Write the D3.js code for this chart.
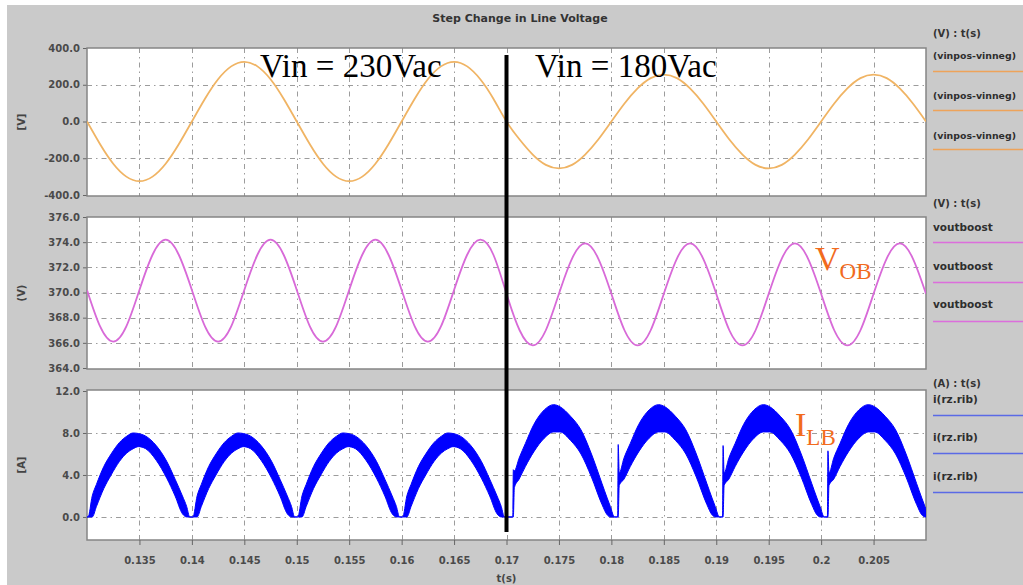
<!DOCTYPE html>
<html><head><meta charset="utf-8">
<script src="https://cdn.jsdelivr.net/npm/d3@7"></script>
<style>
html,body{margin:0;padding:0;background:#fff;}
svg{display:block;}
text{font-family:"DejaVu Sans",sans-serif;}
text.serif{font-family:"Liberation Serif","Times New Roman",serif;}
</style></head>
<body><div id="chart"></div>
<script>
// ---------------- DATA ----------------
const titleText = "Step Change in Line Voltage";
const xTicks = [0.135,0.14,0.145,0.15,0.155,0.16,0.165,0.17,0.175,0.18,0.185,0.19,0.195,0.2,0.205];
const stepTime = 0.17;

// common time grid for the two smooth traces (every 1.25 ms from 0.13 s to 0.21 s)
const gridStart = 0.13, gridStep = 0.00125;

// panel 1: (vinpos-vinneg) [V]
const vinTicks = [-400,-200,0,200,400];
const vinValues = [
  0,-124,-230,-300,-325,-300,-230,-124,0,124,230,300,325,300,230,124,
  0,-124,-230,-300,-325,-300,-230,-124,0,124,230,300,325,300,230,124,
  0,-98,-180,-236,-255,-236,-180,-98,0,98,180,236,255,236,180,98,
  0,-98,-180,-236,-255,-236,-180,-98,0,98,180,236,255,236,180,98,
  0];

// panel 2: voutboost [V]
const voutTicks = [364,366,368,370,372,374,376];
const voutValues = [
  370.2,367.3,366.1,367.3,370.2,373.0,374.2,373.0,
  370.2,367.3,366.1,367.3,370.2,373.0,374.2,373.0,
  370.2,367.3,366.1,367.3,370.2,373.0,374.2,373.0,
  370.2,367.3,366.1,367.3,370.2,373.0,374.2,373.0,
  369.9,367.0,365.8,367.0,369.9,372.7,373.9,372.7,
  369.9,367.0,365.8,367.0,369.9,372.7,373.9,372.7,
  369.9,367.0,365.8,367.0,369.9,372.7,373.9,372.7,
  369.9,367.0,365.8,367.0,369.9,372.7,373.9,372.7,
  369.9];

// panel 3: i(rz.rib) [A] – switching-ripple band (upper / lower envelope)
const ilbTicks = [0,4,8,12];
const ilbTime = [
  0.1300,
  0.1301,0.1305,0.1309,0.1316,0.1323,0.1331,0.1338,0.1344,0.1349,0.1356,0.1366,0.1376,0.1384,0.1391,0.1395,0.1398,
  0.1401,0.1405,0.1409,0.1416,0.1423,0.1431,0.1438,0.1444,0.1449,0.1456,0.1466,0.1476,0.1484,0.1491,0.1495,0.1498,
  0.1501,0.1505,0.1509,0.1516,0.1523,0.1531,0.1538,0.1544,0.1549,0.1556,0.1566,0.1576,0.1584,0.1591,0.1595,0.1598,
  0.1601,0.1605,0.1609,0.1616,0.1623,0.1631,0.1638,0.1644,0.1649,0.1656,0.1666,0.1676,0.1684,0.1691,0.1695,0.1698,
  0.17060,0.17065,0.17075,0.1712,0.1718,0.1726,0.1736,0.1745,0.1751,0.1761,0.1771,0.1781,0.1791,0.1796,0.1799,0.1803,
  0.18060,0.18065,0.18075,0.1812,0.1818,0.1826,0.1836,0.1845,0.1851,0.1861,0.1871,0.1881,0.1891,0.1896,0.1899,0.1903,
  0.19060,0.19065,0.19075,0.1912,0.1918,0.1926,0.1936,0.1945,0.1951,0.1961,0.1971,0.1981,0.1991,0.1996,0.1999,0.2003,
  0.20060,0.20065,0.20075,0.2012,0.2018,0.2026,0.2036,0.2045,0.2051,0.2061,0.2071,0.2081,0.2091,0.2096,0.2099,0.2103];
const ilbUpper = [
  0,
  0,2.0,3.1,4.8,6.0,7.1,7.7,8.0,7.95,7.7,6.8,5.3,3.6,2.0,1.0,0,
  0,2.0,3.1,4.8,6.0,7.1,7.7,8.0,7.95,7.7,6.8,5.3,3.6,2.0,1.0,0,
  0,2.0,3.1,4.8,6.0,7.1,7.7,8.0,7.95,7.7,6.8,5.3,3.6,2.0,1.0,0,
  0,2.0,3.1,4.8,6.0,7.1,7.7,8.0,7.95,7.7,6.8,5.3,3.6,2.0,1.0,0,
  0,4.5,4.4,5.6,7.0,8.8,10.2,10.7,10.5,9.6,8.3,6.0,3.2,1.8,1.0,0,
  0,6.9,4.2,5.6,7.0,8.8,10.2,10.7,10.5,9.6,8.3,6.0,3.2,1.8,1.0,0,
  0,6.8,4.2,5.6,7.0,8.8,10.2,10.7,10.5,9.6,8.3,6.0,3.2,1.8,1.0,0,
  0,6.3,4.2,5.6,7.0,8.8,10.2,10.7,10.5,9.6,8.3,6.0,3.2,1.8,1.0,0];
const ilbLower = [
  0,
  0,0,1.0,2.7,4.0,5.3,6.1,6.5,6.7,6.5,5.4,3.7,2.0,0.3,0,0,
  0,0,1.0,2.7,4.0,5.3,6.1,6.5,6.7,6.5,5.4,3.7,2.0,0.3,0,0,
  0,0,1.0,2.7,4.0,5.3,6.1,6.5,6.7,6.5,5.4,3.7,2.0,0.3,0,0,
  0,0,1.0,2.7,4.0,5.3,6.1,6.5,6.7,6.5,5.4,3.7,2.0,0.3,0,0,
  0,0,2.8,3.6,4.8,6.2,7.5,8.1,8.1,7.3,6.0,3.8,1.2,0.2,0,0,
  0,0,3.0,3.6,4.8,6.2,7.5,8.1,8.1,7.3,6.0,3.8,1.2,0.2,0,0,
  0,0,3.0,3.6,4.8,6.2,7.5,8.1,8.1,7.3,6.0,3.8,1.2,0.2,0,0,
  0,0,3.0,3.6,4.8,6.2,7.5,8.1,8.1,7.3,6.0,3.8,1.2,0.2,0,0];

const legendHeaders = ["(V) : t(s)", "(V) : t(s)", "(A) : t(s)"];
const legendNames = ["(vinpos-vinneg)", "voutboost", "i(rz.rib)"];
const axisTitles = ["[V]", "(V)", "[A]"];
const seriesColors = ["#f0b464", "#d86ad8", "#0000ff"];
const legendColors = ["#eea35a", "#dc6edc", "#5a6ae6"];

// ---------------- LAYOUT ----------------
const W = 1023, H = 585;
const svg = d3.select("#chart").append("svg").attr("width", W).attr("height", H);
svg.append("rect").attr("x", 7).attr("y", 5).attr("width", W - 7).attr("height", H - 5).attr("fill", "#cacaca");

const x = d3.scaleLinear().domain([0.13, 0.21]).range([87, 926]);
const panels = [
  {y: d3.scaleLinear().domain([-400, 400]).range([195, 48]), ticks: vinTicks, top: 48, bottom: 196},
  {y: d3.scaleLinear().domain([364, 376]).range([368, 217]), ticks: voutTicks, top: 217, bottom: 369},
  {y: d3.scaleLinear().domain([-2.1, 12]).range([539, 391]), ticks: ilbTicks, top: 390, bottom: 540}
];

svg.append("text").attr("x", 520).attr("y", 22).attr("text-anchor", "middle")
  .attr("font-size", 11).attr("font-weight", "bold").attr("fill", "#333").text(titleText);

const gridTimes = vinValues.map((v, i) => gridStart + i * gridStep);

panels.forEach((p, k) => {
  const x0 = x.range()[0], x1 = x.range()[1];
  svg.append("rect").attr("x", x0).attr("y", p.top).attr("width", x1 - x0).attr("height", p.bottom - p.top)
    .attr("fill", "#fff");
  svg.append("clipPath").attr("id", "clip" + k).append("rect")
    .attr("x", x0).attr("y", p.top).attr("width", x1 - x0).attr("height", p.bottom - p.top);

  // grid
  const g = svg.append("g").attr("stroke", "#9c9c9c").attr("stroke-width", 1).attr("stroke-dasharray", "5,4,1.5,4");
  p.ticks.forEach(v => {
    const yy = Math.round(p.y(v)) + 0.5;
    if (yy > p.top + 2 && yy < p.bottom - 2)
      g.append("line").attr("x1", x0).attr("x2", x1).attr("y1", yy).attr("y2", yy);
  });
  xTicks.forEach(v => {
    const xx = Math.round(x(v)) + 0.5;
    g.append("line").attr("x1", xx).attr("x2", xx).attr("y1", p.top).attr("y2", p.bottom);
  });

  // y axis
  const ax = svg.append("g").attr("transform", `translate(${x0},0)`)
    .call(d3.axisLeft(p.y).tickValues(p.ticks).tickSize(4).tickPadding(3).tickFormat(d => d.toFixed(1)));
  ax.select(".domain").remove();
  ax.selectAll("line").attr("stroke", "#666");
  ax.selectAll("text").attr("font-size", 10).attr("font-weight", "bold").attr("fill", "#4a4a4a");

  // axis title
  svg.append("text").attr("transform", `translate(25,${(p.top + p.bottom) / 2}) rotate(-90)`)
    .attr("text-anchor", "middle").attr("font-size", 10).attr("font-weight", "bold").attr("fill", "#444")
    .text(axisTitles[k]);

  // frame
  svg.append("rect").attr("x", x0).attr("y", p.top).attr("width", x1 - x0).attr("height", p.bottom - p.top)
    .attr("fill", "none").attr("stroke", "#858585").attr("stroke-width", 1.5);

  // legend
  const lx = 933;
  const headerY = [33, 203, 383][k];
  const entryY = [[55, 95, 135], [227, 266, 304], [399, 437, 476]][k];
  const lineY = [[71, 110, 149], [242, 282, 321], [415, 453, 492]][k];
  svg.append("text").attr("x", lx).attr("y", headerY + 4).attr("font-size", 10).attr("font-weight", "bold")
    .attr("fill", "#333").text(legendHeaders[k]);
  entryY.forEach((yy, j) => {
    const t = svg.append("text").attr("x", lx).attr("y", yy + 4).attr("font-size", 10.5).attr("font-weight", "bold")
      .attr("fill", "#2e2e2e").text(legendNames[k]);
    const maxW = W - lx - 6;
    const w = t.node().getComputedTextLength();
    if (w > maxW) t.attr("font-size", Math.floor(10.5 * maxW / w * 10) / 10);
    svg.append("line").attr("x1", lx).attr("x2", W).attr("y1", lineY[j] + 0.5).attr("y2", lineY[j] + 0.5)
      .attr("stroke", legendColors[k]).attr("stroke-width", 1.5);
  });
});

// series 1
svg.append("path").attr("clip-path", "url(#clip0)")
  .datum(vinValues.map((v, i) => [gridTimes[i], v]))
  .attr("fill", "none").attr("stroke", seriesColors[0]).attr("stroke-width", 1.8)
  .attr("d", d3.line().x(d => x(d[0])).y(d => panels[0].y(d[1])).curve(d3.curveNatural));

// series 2
svg.append("path").attr("clip-path", "url(#clip1)")
  .datum(voutValues.map((v, i) => [gridTimes[i], v]))
  .attr("fill", "none").attr("stroke", seriesColors[1]).attr("stroke-width", 1.8)
  .attr("d", d3.line().x(d => x(d[0])).y(d => panels[1].y(d[1])).curve(d3.curveNatural));

// series 3 band
svg.append("path").attr("clip-path", "url(#clip2)")
  .datum(ilbTime.map((t, i) => ({t, u: ilbUpper[i], l: ilbLower[i]})))
  .attr("fill", seriesColors[2]).attr("stroke", seriesColors[2]).attr("stroke-width", 1)
  .attr("d", d3.area().x(d => x(d.t)).y0(d => panels[2].y(d.l)).y1(d => panels[2].y(d.u)).curve(d3.curveMonotoneX));

// x axis (bottom)
const xa = svg.append("g").attr("transform", `translate(0,${panels[2].bottom})`)
  .call(d3.axisBottom(x).tickValues(xTicks).tickSize(5).tickPadding(12).tickFormat(d => String(d)));
xa.select(".domain").remove();
xa.selectAll("line").attr("stroke", "#666");
xa.selectAll("text").attr("font-size", 10).attr("font-weight", "bold").attr("fill", "#4a4a4a");
svg.append("text").attr("x", x(stepTime)).attr("y", 582).attr("text-anchor", "middle")
  .attr("font-size", 10).attr("font-weight", "bold").attr("fill", "#444").text("t(s)");

// step marker
svg.append("line").attr("x1", x(stepTime)).attr("x2", x(stepTime)).attr("y1", 55).attr("y2", 532)
  .attr("stroke", "#000").attr("stroke-width", 4);

// annotations
svg.append("text").attr("class", "serif").attr("x", 260).attr("y", 77).attr("font-size", 33)
  .attr("fill", "#000").text("Vin = 230Vac");
svg.append("text").attr("class", "serif").attr("x", 535).attr("y", 77).attr("font-size", 33)
  .attr("fill", "#000").text("Vin = 180Vac");
const vob = svg.append("text").attr("class", "serif").attr("x", 815).attr("y", 270)
  .attr("font-size", 34).attr("fill", "#f26b1d");
vob.append("tspan").text("V");
vob.append("tspan").attr("dy", 9).attr("font-size", 23).text("OB");
const ilb = svg.append("text").attr("class", "serif").attr("x", 795).attr("y", 436)
  .attr("font-size", 34).attr("fill", "#f26b1d");
ilb.append("tspan").text("I");
ilb.append("tspan").attr("dy", 9).attr("font-size", 23).text("LB");
</script></body></html>
